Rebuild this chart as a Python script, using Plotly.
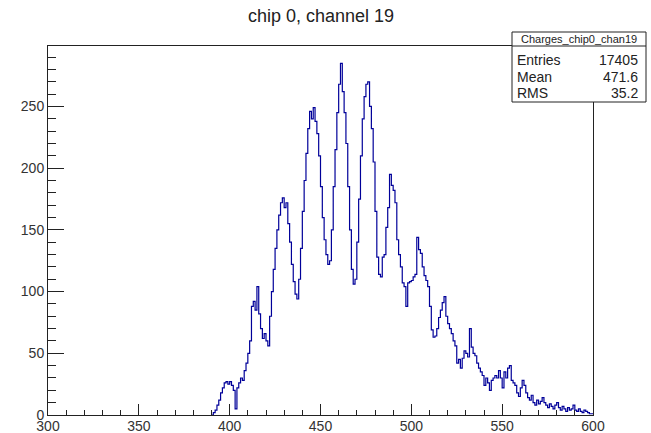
import plotly.graph_objects as go

# Histogram "Charges_chip0_chan19": 1-unit bins, lower edges 390..599 (all bins below 390 are empty)
bin_start = 390
counts = [
    0, 2, 4, 8, 12, 18, 22, 26, 27, 25,          # 390-399
    27, 24, 20, 5, 22, 26, 30, 28, 36, 42,       # 400-409
    50, 60, 88, 92, 85, 104, 82, 70, 62, 66,     # 410-419
    60, 56, 80, 100, 118, 135, 150, 162, 172, 176,  # 420-429
    168, 172, 155, 140, 122, 108, 98, 94, 110, 135,  # 430-439
    165, 190, 212, 232, 246, 240, 249, 238, 228, 210,  # 440-449
    185, 160, 142, 130, 122, 125, 150, 185, 215, 245,  # 450-459
    268, 285, 262, 245, 220, 185, 150, 118, 106, 110,  # 460-469
    140, 175, 210, 240, 258, 268, 270, 250, 232, 205,  # 470-479
    165, 128, 114, 112, 128, 130, 152, 168, 195, 186,  # 480-489
    182, 172, 142, 130, 120, 107, 104, 88, 107, 108,   # 490-499
    109, 112, 114, 144, 134, 131, 120, 113, 109, 104,  # 500-509
    88, 69, 63, 64, 70, 79, 85, 91, 96, 80,           # 510-519
    74, 70, 66, 60, 56, 42, 45, 38, 46, 52,           # 520-529
    50, 47, 70, 55, 50, 48, 42, 38, 35, 32,           # 530-539
    24, 30, 26, 20, 28, 30, 32, 30, 36, 30,           # 540-549
    22, 35, 30, 38, 40, 28, 26, 24, 18, 15,           # 550-559
    22, 28, 24, 18, 14, 12, 16, 10, 8, 12,            # 560-569
    9, 11, 14, 10, 8, 6, 9, 7, 5, 8,                  # 570-579
    10, 6, 4, 7, 5, 3, 6, 4, 5, 8,                    # 580-589
    4, 3, 5, 3, 2, 4, 3, 2, 1, 1,                     # 590-599
]
edges = [bin_start + i for i in range(len(counts) + 1)]

title_text = "chip 0, channel 19"
stats_name = "Charges_chip0_chan19"
stats_rows = [("Entries", "17405"), ("Mean", "471.6"), ("RMS", "35.2")]

x_range = [300, 600]
y_range = [0, 299]

FONT = "Liberation Sans, Arial, Helvetica, sans-serif"

fig = go.Figure()
fig.add_trace(go.Scatter(
    x=edges,
    y=counts + [counts[-1]],
    mode="lines",
    line=dict(shape="hv", color="#000099", width=1.2),
    hoverinfo="skip",
    showlegend=False,
))

axis_common = dict(
    showgrid=False, zeroline=False, automargin=False,
    showline=True, linecolor="#222", linewidth=1, mirror=True,
    ticks="inside", tickcolor="#222",
    tickfont=dict(family=FONT, size=14, color="#333"),
)

fig.update_layout(
    width=651, height=433,
    margin=dict(l=48, r=58, t=46, b=18, autoexpand=False),
    paper_bgcolor="white", plot_bgcolor="white",
    xaxis=dict(range=x_range, dtick=50, tick0=300, ticklen=11, tickwidth=1,
               ticklabelstandoff=-2,
               minor=dict(dtick=10, ticklen=5, ticks="inside", tickcolor="#222"),
               **axis_common),
    yaxis=dict(range=y_range, dtick=50, tick0=0, ticklen=16, tickwidth=1,
               minor=dict(dtick=10, ticklen=8, ticks="inside", tickcolor="#222"),
               **axis_common),
)

# Title
fig.add_annotation(text=title_text, xref="paper", yref="paper", x=0.5, y=1.081,
                   xanchor="center", yanchor="middle", showarrow=False,
                   font=dict(family=FONT, size=18, color="#222"))

# Stats box
def px_x(p):
    return (p - 48) / 545.0

def px_y(p):
    return (415 - p) / 369.0

fig.add_shape(type="rect", xref="paper", yref="paper",
              x0=px_x(512), x1=px_x(646), y0=px_y(102), y1=px_y(32),
              line=dict(color="#222", width=1), fillcolor="white", layer="above")
fig.add_shape(type="line", xref="paper", yref="paper",
              x0=px_x(512), x1=px_x(646), y0=px_y(46), y1=px_y(46),
              line=dict(color="#222", width=1), layer="above")
fig.add_annotation(text=stats_name, xref="paper", yref="paper",
                   x=px_x(579), y=px_y(39), xanchor="center", yanchor="middle",
                   showarrow=False, font=dict(family=FONT, size=11, color="#222"))
row_y = [60, 77, 93]
for (name, val), py in zip(stats_rows, row_y):
    fig.add_annotation(text=name, xref="paper", yref="paper",
                       x=px_x(515), y=px_y(py), xanchor="left", yanchor="middle",
                       showarrow=False, font=dict(family=FONT, size=14, color="#222"))
    fig.add_annotation(text=val, xref="paper", yref="paper",
                       x=px_x(640), y=px_y(py), xanchor="right", yanchor="middle",
                       showarrow=False, font=dict(family=FONT, size=14, color="#222"))

fig.write_html("out.html")
